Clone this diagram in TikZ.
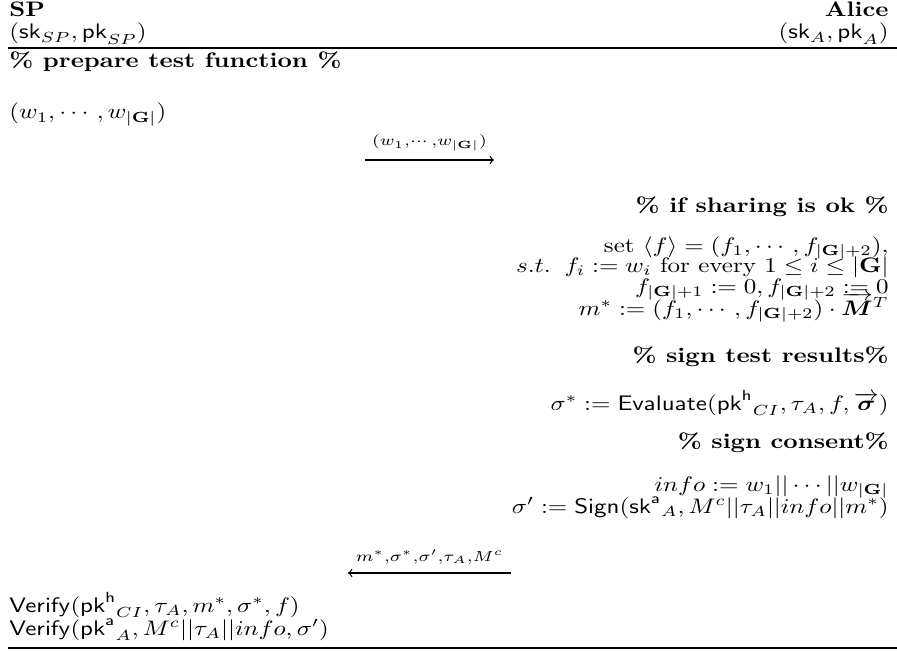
\documentclass[tikz,border=0pt]{standalone}
\usepackage{fix-cm}
\usepackage{graphicx}
\usepackage{amsmath,bm}
\usetikzlibrary{arrows}
\newcommand{\pkh}{{\mathsf{pk}^{\mathsf{h}}}}
\newcommand{\pka}{{\mathsf{pk}^{\mathsf{a}}}}
\newcommand{\ska}{{\mathsf{sk}^{\mathsf{a}}}}
\newcommand{\GG}{|\mathbf{G}|}
\newcommand{\sctxt}[1]{\scalebox{1.25}[1.05]{#1}}
\begin{document}
\begin{tikzpicture}[x=0.5pt,y=-0.5pt,
  txt/.style={inner sep=0pt, font=\fontsize{10}{12}\selectfont},
  lft/.style={txt,anchor=base west},
  rgt/.style={txt,anchor=base east},
  msg/.style={line width=0.6pt},
  lbl/.style={txt,above=4pt},
  rulestyle/.style={line width=0.8pt}]
\useasboundingbox (0,0) rectangle (897,652);
% header
\node[lft] (sp) at (9,17) {\sctxt{\textbf{SP}}};
\node[rgt] (alice) at (889,17) {\sctxt{\textbf{Alice}}};
\node[lft] (spkey) at (9,39) {\sctxt{$(\mathsf{sk}_{SP},\mathsf{pk}_{SP})$}};
\node[rgt] (akey) at (889,39) {\sctxt{$(\mathsf{sk}_{A},\mathsf{pk}_{A})$}};
\coordinate (r1l) at (8,48);
\coordinate (r1r) at (897,48);
\draw[rulestyle] (r1l) -- (r1r);
% SP part
\node[lft] (prep) at (9,68) {\sctxt{\textbf{\% prepare test function \%}}};
\node[lft] (wvec) at (9,119) {\sctxt{$(w_1,\cdots,w_{\GG})$}};
\coordinate (m1s) at (365,160);
\coordinate (m1e) at (494,160);
\draw[msg,-to] (m1s) -- node[lbl] (m1l) {\sctxt{$\scriptstyle (w_1,\cdots,w_{\GG})$}} (m1e);
% Alice part
\node[rgt] (share) at (889,212) {\sctxt{\textbf{\% if sharing is ok \%}}};
\node[rgt] (set) at (889,252) {\sctxt{set $\langle f\rangle=(f_1,\cdots,f_{\GG+2}),$}};
\node[rgt] (st) at (889,272) {\sctxt{$s.t.\;\; f_i:=w_i$ for every $1\leq i\leq \GG$}};
\node[rgt] (fz) at (889,293) {\sctxt{$f_{\GG+1}:=0, f_{\GG+2}:=0$}};
\node[rgt] (ms) at (889,315) {\sctxt{$m^*:=(f_1,\cdots,f_{\GG+2})\cdot\overrightarrow{\bm{M}}^T$}};
\node[rgt] (signt) at (889,362) {\sctxt{\textbf{\% sign test results\%}}};
\node[rgt] (eval) at (889,410) {\sctxt{$\sigma^*:=\mathsf{Evaluate}(\pkh_{CI},\tau_A,f,\overrightarrow{\bm{\sigma}})$}};
\node[rgt] (signc) at (889,448) {\sctxt{\textbf{\% sign consent\%}}};
\node[rgt] (info) at (889,491) {\sctxt{$info:=w_1||\cdots||w_{\GG}$}};
\node[rgt] (sig) at (889,513) {\sctxt{$\sigma':=\mathsf{Sign}(\ska_A,M^c||\tau_A||info||m^*)$}};
\coordinate (m2s) at (511,573);
\coordinate (m2e) at (348,573);
\draw[msg,-to] (m2s) -- node[lbl] (m2l) {\sctxt{$\scriptstyle m^*,\sigma^*,\sigma',\tau_A,M^c$}} (m2e);
% SP verify
\node[lft] (v1) at (9,612) {\sctxt{$\mathsf{Verify}(\pkh_{CI},\tau_A,m^*,\sigma^*,f)$}};
\node[lft] (v2) at (9,635) {\sctxt{$\mathsf{Verify}(\pka_A,M^c||\tau_A||info,\sigma')$}};
\coordinate (r2l) at (8,648);
\coordinate (r2r) at (897,648);
\draw[rulestyle] (r2l) -- (r2r);
\end{tikzpicture}
\end{document}
